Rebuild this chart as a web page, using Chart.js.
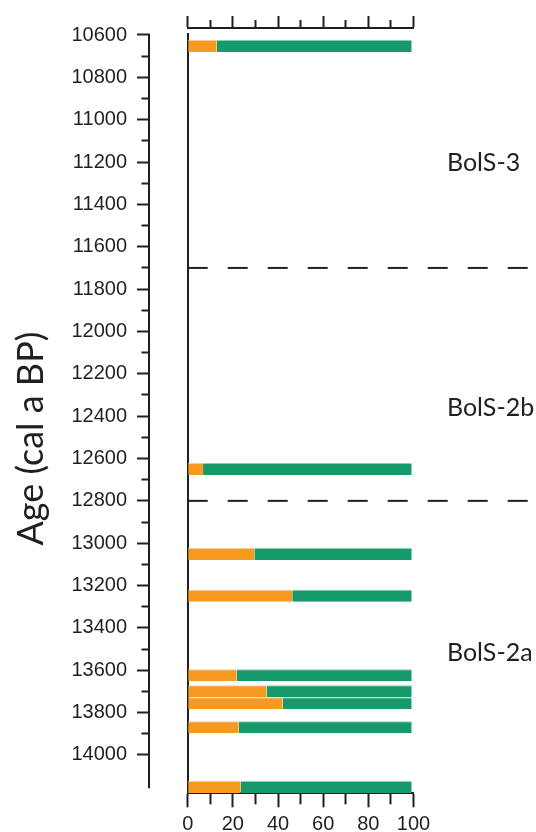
<!DOCTYPE html>
<html>
<head>
<meta charset="utf-8">
<script src="https://cdn.jsdelivr.net/npm/chart.js@4/dist/chart.umd.min.js"></script>
<style>
  html, body { margin: 0; padding: 0; background: #ffffff; }
  #c { display: block; }
</style>
</head>
<body>
<canvas id="c" width="536" height="832"></canvas>
<script>
// Sample ages (cal a BP) and the two percentage shares of each sample
const ages        = [10652, 12650, 13051, 13248, 13624, 13699, 13756, 13869, 14151];
const orangeShare = [12.8, 6.8, 29.5, 46.3, 21.7, 34.9, 42.0, 22.6, 23.5];
const greenShare  = [86.4, 92.4, 69.7, 52.9, 77.5, 64.3, 57.2, 76.6, 75.7];

// Zone boundaries and zone names
const zoneBoundaries = [11700, 12800];
const zoneNames      = ['BolS-3', 'BolS-2b', 'BolS-2a'];
const zoneNameAges   = [11204, 12361, 13518];

// Tick values
const ageMajorTicks = [10600, 10800, 11000, 11200, 11400, 11600, 11800, 12000, 12200,
                       12400, 12600, 12800, 13000, 13200, 13400, 13600, 13800, 14000];
const ageMinorTicks = [10700, 10900, 11100, 11300, 11500, 11700, 11900, 12100, 12300,
                       12500, 12700, 12900, 13100, 13300, 13500, 13700, 13900];
const pctMajorTicks = [0, 20, 40, 60, 80, 100];
const pctMinorTicks = [10, 30, 50, 70, 90];

const axisTitle = 'Age (cal a BP)';

const INK = '#231f20';
const ORANGE = '#f79a21', ORANGE_EDGE = '#fbcc90';
const GREEN = '#169a69', GREEN_EDGE = '#8accb4';

const AGE_MIN = 10595.3, AGE_MAX = 14181, AGE_AXIS_END = 14157;
const DASH_END = 150.7;     // dashed boundaries run past the panel to the zone names
const ZONE_LABEL_X = 114.8; // left edge of zone names, in percent-axis units

const tickFont = { family: "'Liberation Sans', Arial, sans-serif", size: 20 };

const setTicks = values => scale => { scale.ticks = values.map(v => ({ value: v })); };
const setWidth = w => scale => { scale.width = w; };
const setHeight = h => scale => { scale.height = h; };

function tickGrid(len) {
  return { display: true, offset: false, drawOnChartArea: false, drawTicks: true,
           tickLength: len, color: INK, tickColor: INK, tickWidth: 2 };
}

function tickAxis(extra) {
  return Object.assign({
    type: 'linear',
    offset: false,
    grid: { display: false },
    border: { display: false },
    ticks: { display: false }
  }, extra);
}

const barStyle = {
  type: 'bar',
  barThickness: 12,
  grouped: false,
  borderSkipped: false,
  borderWidth: { top: 1, bottom: 0, left: 0, right: 0 },
  inflateAmount: 0,
  xAxisID: 'x', yAxisID: 'y'
};

const datasets = [
  Object.assign({}, barStyle, {
    label: 'orange',
    data: ages.map((a, i) => ({ y: a, x: orangeShare[i] })),
    backgroundColor: ORANGE,
    borderColor: ORANGE_EDGE
  }),
  Object.assign({}, barStyle, {
    label: 'green',
    data: ages.map((a, i) => ({ y: a, x: greenShare[i] })),
    backgroundColor: GREEN,
    borderColor: GREEN_EDGE
  })
];

zoneBoundaries.forEach((b, i) => {
  datasets.push({
    type: 'line',
    label: 'boundary ' + i,
    stack: 'boundary' + i,
    data: [{ x: 0, y: b }, { x: DASH_END, y: b }],
    borderColor: INK,
    borderWidth: 2,
    borderDash: [20, 20],
    pointRadius: 0,
    fill: false,
    clip: false,
    xAxisID: 'x', yAxisID: 'y'
  });
});

// Left age axis line, rotated axis title and zone names
const decorations = {
  id: 'decorations',
  afterDraw(chart) {
    const { ctx, chartArea } = chart;
    const y = chart.scales.y;
    const x = chart.scales.x;
    ctx.save();
    ctx.strokeStyle = INK;
    ctx.lineWidth = 2;
    ctx.beginPath();
    ctx.moveTo(y.right - 1, chartArea.top);
    ctx.lineTo(y.right - 1, y.getPixelForValue(AGE_AXIS_END));
    ctx.stroke();

    ctx.fillStyle = INK;
    ctx.font = "36px Lato, 'Open Sans', sans-serif";
    ctx.translate(43, y.getPixelForValue(12506));
    ctx.rotate(-Math.PI / 2);
    ctx.textAlign = 'center';
    ctx.textBaseline = 'alphabetic';
    ctx.fillText(axisTitle, 0, 0);
    ctx.restore();

    ctx.save();
    ctx.fillStyle = INK;
    ctx.font = "25px Lato, 'Open Sans', sans-serif";
    ctx.textAlign = 'left';
    ctx.textBaseline = 'middle';
    zoneNames.forEach((n, i) => {
      ctx.fillText(n, x.getPixelForValue(ZONE_LABEL_X), y.getPixelForValue(zoneNameAges[i]));
    });
    ctx.restore();
  }
};

new Chart(document.getElementById('c'), {
  data: { datasets },
  options: {
    responsive: false,
    animation: false,
    devicePixelRatio: 1,
    indexAxis: 'y',
    layout: { padding: { left: 0, right: 122.5, top: 0, bottom: 0 } },
    plugins: { legend: { display: false }, tooltip: { enabled: false } },
    scales: {
      x: tickAxis({
        position: 'bottom', weight: 1, min: 0, max: 100, stacked: true,
        afterBuildTicks: setTicks(pctMajorTicks), afterFit: setHeight(38.7),
        grid: tickGrid(14),
        border: { display: true, color: INK, width: 2 },
        ticks: { display: true, font: tickFont, color: INK, padding: 5, maxRotation: 0, autoSkip: false, callback: v => String(v) }
      }),
      xMinor: tickAxis({
        position: 'bottom', weight: 0, min: 0, max: 100,
        afterBuildTicks: setTicks(pctMinorTicks), afterFit: setHeight(0),
        grid: tickGrid(11)
      }),
      xTop: tickAxis({
        position: 'top', weight: 2, min: 0, max: 100,
        afterBuildTicks: setTicks(pctMajorTicks), afterFit: setHeight(28),
        grid: tickGrid(12),
        border: { display: true, color: INK, width: 2 }
      }),
      xTopMinor: tickAxis({
        position: 'top', weight: 1, min: 0, max: 100,
        afterBuildTicks: setTicks(pctMinorTicks), afterFit: setHeight(0),
        grid: tickGrid(8)
      }),
      xTopGap: tickAxis({
        position: 'top', weight: 0, min: 0, max: 100, afterFit: setHeight(6)
      }),
      y: tickAxis({
        position: 'left', weight: 2, reverse: true, min: AGE_MIN, max: AGE_MAX,
        afterBuildTicks: setTicks(ageMajorTicks), afterFit: setWidth(150),
        grid: tickGrid(13),
        ticks: { display: true, font: tickFont, color: INK, padding: 10, autoSkip: false, callback: v => String(v) }
      }),
      yMinor: tickAxis({
        position: 'left', weight: 1, reverse: true, min: AGE_MIN, max: AGE_MAX,
        afterBuildTicks: setTicks(ageMinorTicks), afterFit: setWidth(0),
        grid: tickGrid(8.5)
      }),
      yPanel: tickAxis({
        position: 'left', weight: 0, reverse: true, min: AGE_MIN, max: AGE_MAX, afterFit: setWidth(37.7),
        border: { display: true, color: INK, width: 2 }
      })
    }
  },
  plugins: [decorations]
});
</script>
</body>
</html>
